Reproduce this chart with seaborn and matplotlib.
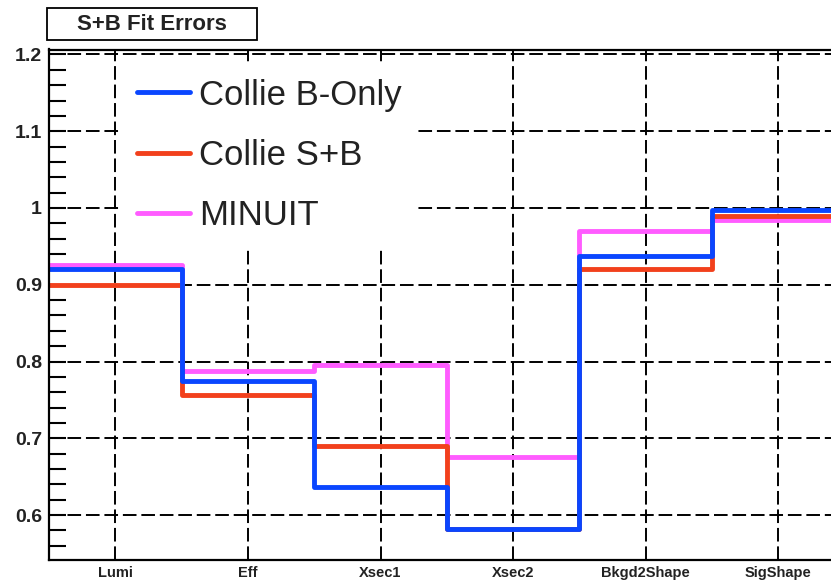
import numpy as np
import pandas as pd
import matplotlib
matplotlib.use("Agg")
import matplotlib.pyplot as plt
import seaborn as sns
from matplotlib.lines import Line2D
from matplotlib.patches import Rectangle
from matplotlib.ticker import MultipleLocator, FixedLocator

# ---------------- data ----------------
categories = ["Lumi", "Eff", "Xsec1", "Xsec2", "Bkgd2Shape", "SigShape"]
collie_b_only = [0.920, 0.775, 0.637, 0.582, 0.938, 0.998]
collie_s_plus_b = [0.900, 0.757, 0.690, 0.582, 0.921, 0.990]
minuit = [0.926, 0.788, 0.795, 0.676, 0.970, 0.984]
series_names = ["Collie B-Only", "Collie S+B", "MINUIT"]
series_colors = ["#0a46ff", "#f2401c", "#ff5cff"]
title_text = "S+B Fit Errors"

# ---------------- long table ----------------
rows = []
for name, vals in zip(series_names, [collie_b_only, collie_s_plus_b, minuit]):
    for i, v in enumerate(vals):
        rows.append({"pos": i, "value": v, "series": name})
df = pd.DataFrame(rows)

sns.set_theme(style="white")
plt.rcParams["font.family"] = ["Liberation Sans", "DejaVu Sans"]

W, H = 831, 580
fig = plt.figure(figsize=(W / 100, H / 100), dpi=100)
fig.patch.set_facecolor("white")
ax_left, ax_right, ax_top, ax_bottom = 49, 844.6, 49.5, 560
ax = fig.add_axes([ax_left / W, (H - ax_bottom) / H,
                   (ax_right - ax_left) / W, (ax_bottom - ax_top) / H])
ax.set_facecolor("white")

sns.histplot(data=df, x="pos", weights="value", hue="series",
             hue_order=series_names, palette=series_colors,
             discrete=True, element="step", fill=False,
             linewidth=3.5, legend=False, ax=ax)

ax.set_xlim(-0.5, len(categories) - 0.5)
ax.set_ylim(0.5414, 1.2065)
ax.set_xlabel("")
ax.set_ylabel("")

# grid
ax.set_axisbelow(True)
ax.grid(True, which="major", color="black", linestyle=(0, (7, 2.5)), linewidth=1.4)

# ticks
ax.set_xticks(range(len(categories)))
ax.set_xticklabels(categories, fontsize=10.5, fontweight="bold", color="#222222")
ax.yaxis.set_major_locator(MultipleLocator(0.1))
ax.yaxis.set_minor_locator(MultipleLocator(0.02))
ax.yaxis.set_major_formatter(matplotlib.ticker.FuncFormatter(
    lambda v, p: ("%g" % round(v, 2))))
ax.tick_params(axis="y", which="major", direction="in", length=12, width=1.5,
               color="black", labelsize=14, pad=5, left=True, right=False)
ax.tick_params(axis="y", which="minor", direction="in", length=12, width=1.5,
               color="black", left=True, right=False)
ax.tick_params(axis="x", which="major", direction="in", length=0, pad=4)
for lab in ax.get_yticklabels():
    lab.set_fontweight("bold")
    lab.set_color("#222222")

for sp in ax.spines.values():
    sp.set_color("black")
    sp.set_linewidth(1.6)

# legend
handles = [Line2D([0], [0], color=c, lw=3.5) for c in series_colors]
leg = ax.legend(handles, series_names, loc="upper left",
                bbox_to_anchor=((121 - ax_left) / (ax_right - ax_left),
                                (ax_bottom - 63) / (ax_bottom - ax_top)),
                frameon=True, facecolor="white", edgecolor="none", framealpha=1,
                fancybox=False, fontsize=25, handlelength=1.53,
                handletextpad=0.26, labelspacing=0.79, borderpad=0.45,
                borderaxespad=0)
for t in leg.get_texts():
    t.set_color("#222222")

# title box
fig.patches.append(Rectangle((47 / W, 1 - 40 / H), 210 / W, 32 / H,
                             transform=fig.transFigure, facecolor="white",
                             edgecolor="black", linewidth=1.3))
fig.text(152 / W, 1 - 24.5 / H, title_text, ha="center", va="center",
         fontsize=16, fontweight="bold", color="#222222")

fig.savefig("out.png", dpi=100)
